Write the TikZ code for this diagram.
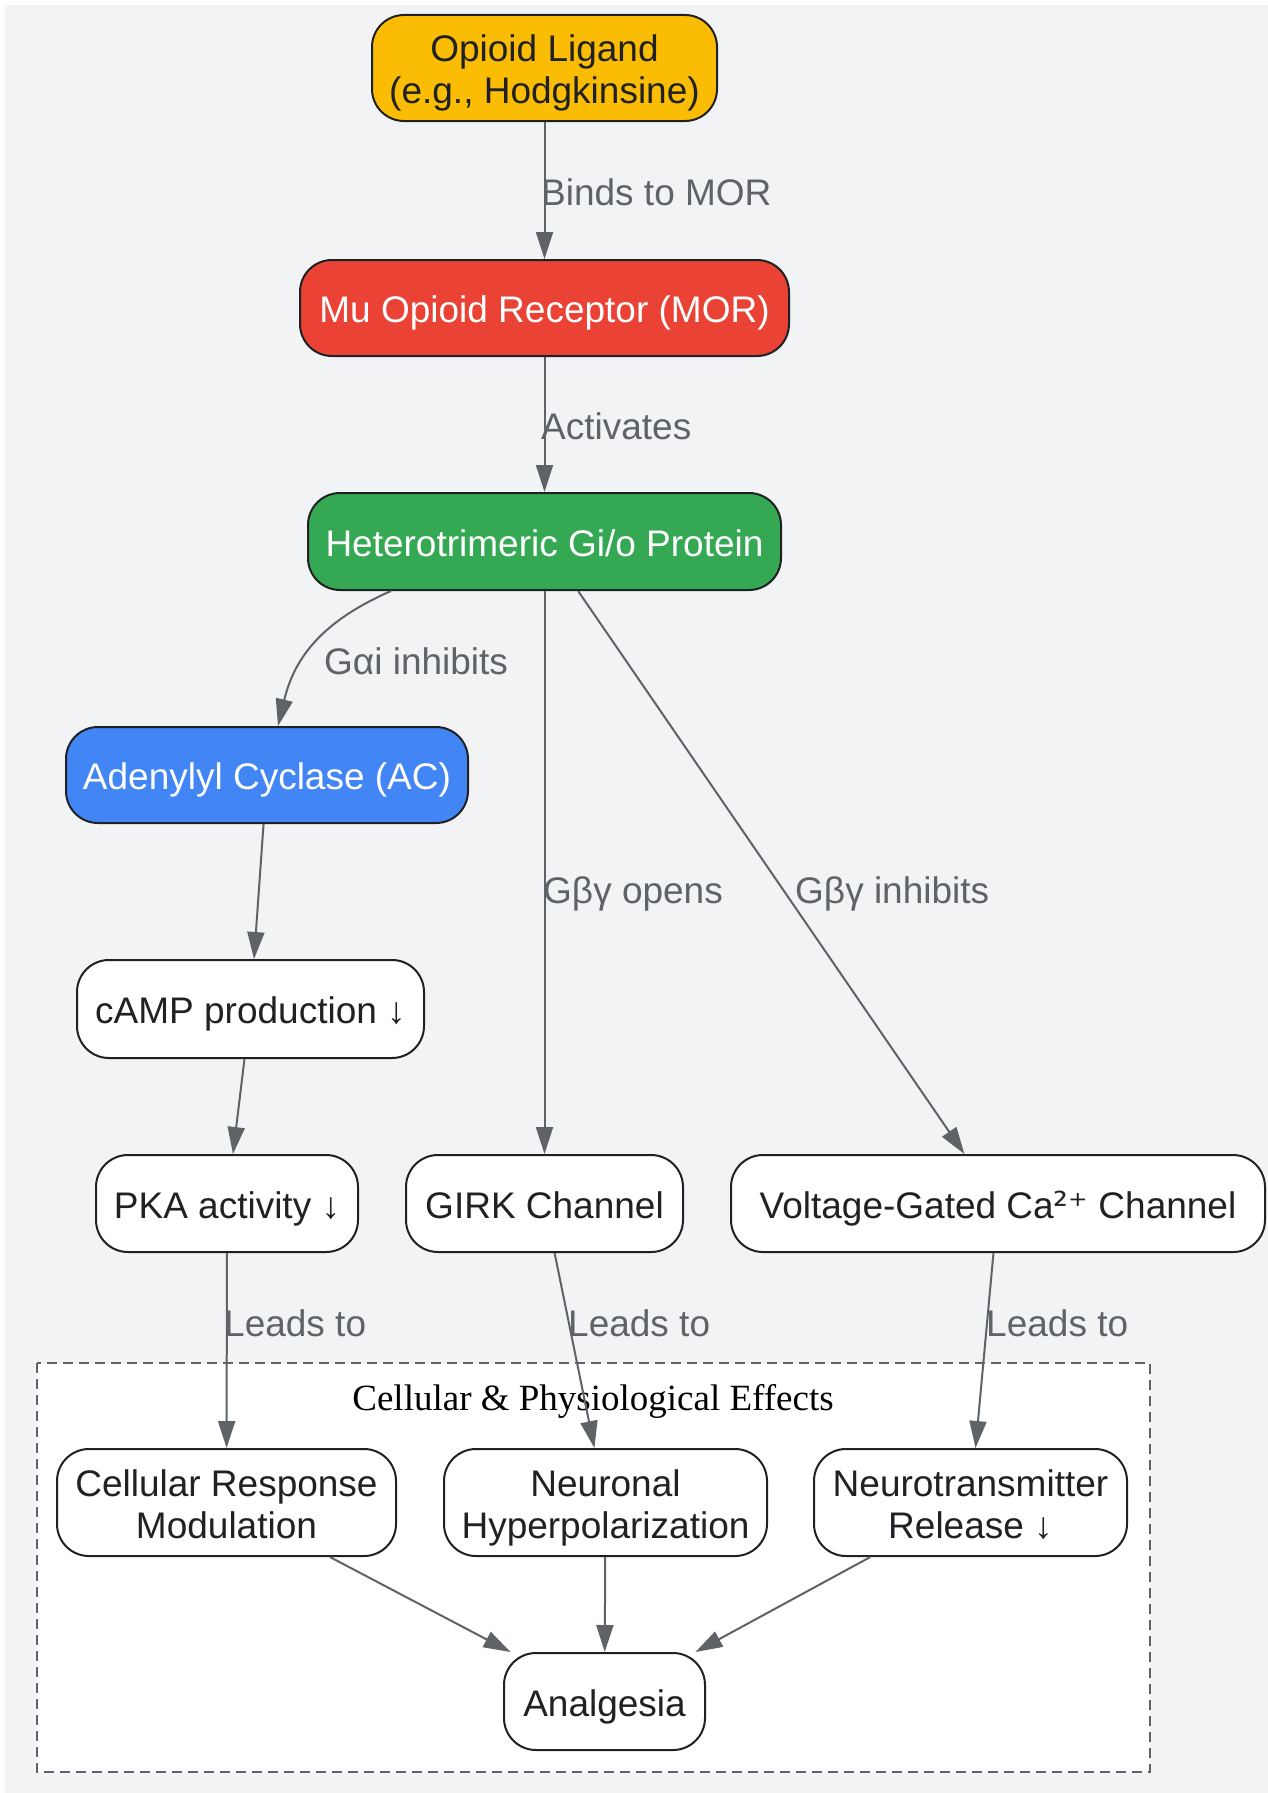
\documentclass[tikz,border=0pt]{standalone}
\usepackage{fontspec}
\setmainfont{Liberation Sans}
\newfontfamily\serifT{Liberation Serif}
\newfontfamily\djv{DejaVu Sans}
\usetikzlibrary{arrows.meta}
\definecolor{bgc}{HTML}{F1F3F4}
\definecolor{edgec}{HTML}{5F6368}
\definecolor{txtc}{HTML}{202124}
\definecolor{yel}{HTML}{FBBC04}
\definecolor{redc}{HTML}{EA4335}
\definecolor{grn}{HTML}{34A853}
\definecolor{blu}{HTML}{4285F4}
\tikzset{
  box/.style={draw=txtc, line width=2pt, rounded corners=32pt, fill=white,
    minimum height=97pt, inner sep=0pt, align=center, text=txtc,
    text height=33pt, text depth=4pt,
    font=\fontsize{37}{42}\selectfont},
  twoline/.style={text height=75pt, text depth=4pt},
  edge/.style={draw=edgec, line width=2pt, -{Triangle[length=27pt,width=17pt]}},
  lbl/.style={text=edgec, anchor=west, inner sep=0pt, font=\fontsize{37}{42}\selectfont}
}
\begin{document}
\begin{tikzpicture}[x=1pt,y=-1pt]
\useasboundingbox (0,0) rectangle (1268,1793);
\fill[white] (0,0) rectangle (1268,1793);
\fill[bgc] (5,5) rectangle (1268,1793);
% cluster
\draw[edgec, line width=2pt, dash pattern=on 10pt off 6pt, fill=white] (37,1363) rectangle (1150,1772);
\node[font=\serifT\fontsize{37}{42}\selectfont, text=black, inner sep=0pt] (ctitle) at (593,1401) {Cellular \& Physiological Effects};
% nodes
\node[box, twoline, fill=yel, minimum width=345pt, minimum height=106pt] (lig) at (544.5,68) {Opioid Ligand\\(e.g., Hodgkinsine)};
\node[box, fill=redc, text=white, minimum width=489pt, minimum height=96pt] (mor) at (544.5,308) {Mu Opioid Receptor (MOR)};
\node[box, fill=grn, text=white, minimum width=473pt] (gio) at (544.5,541.5) {Heterotrimeric Gi/o Protein};
\node[box, fill=blu, text=white, minimum width=402pt, minimum height=96pt] (ac) at (267,775) {Adenylyl Cyclase (AC)};
\node[box, minimum width=347pt, minimum height=98pt] (camp) at (250.5,1009) {cAMP production ↓};
\node[box, minimum width=262pt] (pka) at (227,1203.5) {PKA activity ↓};
\node[box, minimum width=277pt] (girk) at (544.5,1203.5) {GIRK Channel};
\node[box, minimum width=534pt] (vgcc) at (998,1203.5) {Voltage-Gated Ca{\djv ²⁺} Channel};
\node[box, twoline, minimum width=339pt, minimum height=107pt] (crm) at (226.5,1502.5) {Cellular Response\\Modulation};
\node[box, twoline, minimum width=323pt, minimum height=107pt] (nh) at (605.5,1502.5) {Neuronal\\Hyperpolarization};
\node[box, twoline, minimum width=313pt, minimum height=107pt] (nr) at (970.5,1502.5) {Neurotransmitter\\Release ↓};
\node[box, minimum width=201pt] (ana) at (604.5,1701.5) {Analgesia};
% edges
\draw[edge] (lig) -- (mor);
\draw[edge] (mor) -- (gio);
\draw[edge] ([xshift=-153.5pt]gio.south) .. controls (325,620) and (295,655) .. ([xshift=11pt]ac.north);
\draw[edge] (gio) -- (girk);
\draw[edge] (gio) -- (vgcc);
\draw[edge] (ac) -- (camp);
\draw[edge] (camp) -- (pka);
\draw[edge] (pka) -- (crm);
\draw[edge] (girk) -- (nh);
\draw[edge] (vgcc) -- (nr);
\draw[edge] (crm) -- (ana);
\draw[edge] (nh) -- (ana);
\draw[edge] (nr) -- (ana);
% labels
\node[lbl] (l1) at (541,192) {Binds to MOR};
\node[lbl] (l2) at (541,426) {Activates};
\node[lbl] (l3) at (324,661) {Gαi inhibits};
\node[lbl] (l4) at (543,894) {Gβγ opens};
\node[lbl] (l5) at (795,894) {Gβγ inhibits};
\node[lbl] (l6) at (224,1323) {Leads to};
\node[lbl] (l7) at (568,1323) {Leads to};
\node[lbl] (l8) at (986,1323) {Leads to};
\end{tikzpicture}
\end{document}
